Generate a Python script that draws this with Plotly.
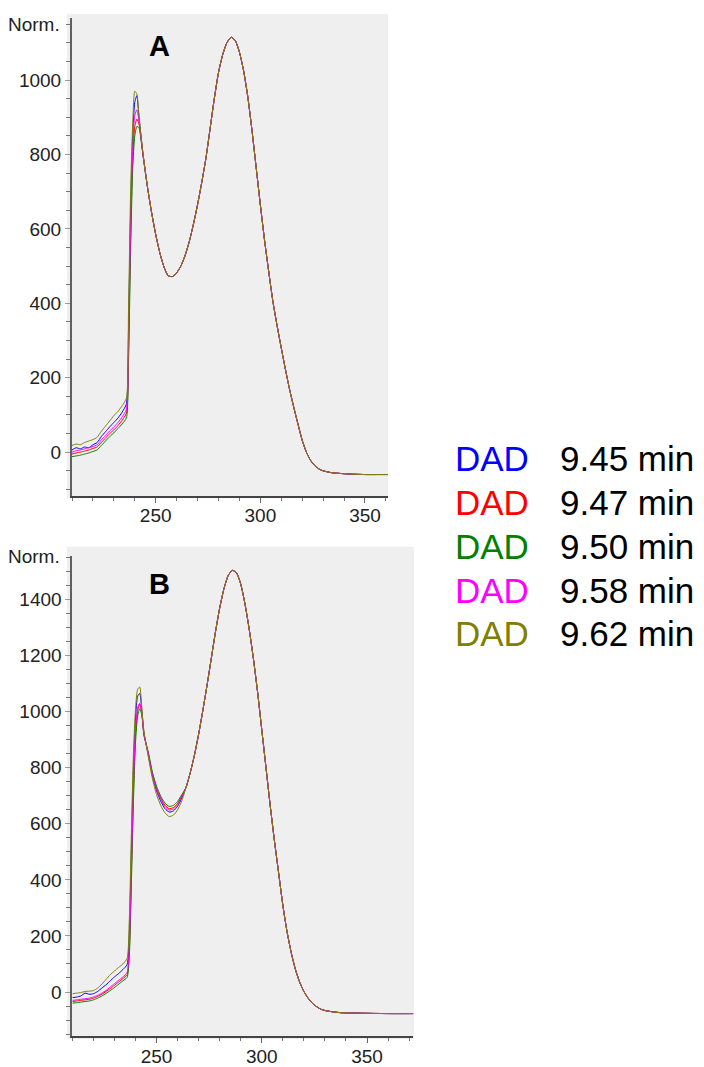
import plotly.graph_objects as go

# ---------------- data ----------------
SERIES = ["DAD 9.45 min", "DAD 9.47 min", "DAD 9.50 min", "DAD 9.58 min", "DAD 9.62 min"]
LEG_TIME = ["9.45 min", "9.47 min", "9.50 min", "9.58 min", "9.62 min"]
COLORS = ["#0000ff", "#ff0000", "#008000", "#ff00ff", "#808000"]

# Panel A: wavelengths where the five spectra differ
WL_HEAD_A = [210, 212, 214, 216, 218, 220, 222, 224, 226, 228, 230, 232, 234, 236,
             237, 238, 239, 240, 241, 242, 243, 244]
A_945 = [6, 12, 9, 14, 12, 20, 26, 42, 55, 68, 80, 92, 108, 130,
         330, 650, 850, 940, 958, 900, 848, 798]
A_947 = [-5, -2, 0, 3, 6, 10, 14, 26, 38, 50, 60, 72, 86, 105,
         270, 580, 790, 875, 895, 882, 842, 796]
A_950 = [-12, -10, -8, -5, -2, 2, 6, 18, 30, 42, 52, 64, 76, 92,
         240, 540, 760, 850, 875, 872, 838, 795]
A_958 = [0, 4, 6, 9, 12, 15, 20, 33, 45, 57, 68, 80, 95, 115,
         300, 610, 820, 905, 920, 890, 845, 797]
A_962 = [18, 22, 20, 26, 30, 34, 40, 56, 70, 84, 98, 110, 125, 145,
         380, 700, 880, 970, 962, 905, 850, 800]
# Panel A: common part of the spectra
WL_TAIL_A = [246, 248, 250, 252, 254, 256, 258, 260, 262, 264, 266, 268, 270, 272, 274,
             276, 278, 280, 282, 284, 286, 288, 290, 292, 294, 296, 298, 300, 302, 304,
             306, 308, 310, 312, 314, 316, 318, 320, 322, 324, 326, 328, 330, 334, 338,
             344, 350, 356, 361]
A_TAIL = [715, 645, 585, 535, 497, 474, 472, 482, 500, 528, 565, 612, 665, 725, 790,
          870, 950, 1020, 1068, 1100, 1115, 1106, 1075, 1025, 955, 865, 765, 665, 570, 485,
          405, 340, 280, 222, 168, 120, 75, 32, 0, -22, -36, -45, -50, -55, -57,
          -59, -60, -60, -60]

# Panel B: wavelengths where the five spectra differ
WL_HEAD_B = [210, 212, 214, 216, 218, 220, 222, 224, 226, 228, 230, 232, 234, 236,
             237, 238, 239, 240, 241, 242, 243, 244,
             246, 248, 250, 252, 254, 256, 258, 260, 262]
B_945 = [-20, -18, -14, -4, -8, -6, 2, 14, 26, 40, 54, 66, 80, 98,
         200, 500, 800, 980, 1055, 1065, 1005, 925,
         848, 772, 717, 680, 654, 642, 646, 663, 692]
B_947 = [-34, -32, -30, -28, -26, -22, -16, -8, 2, 12, 24, 36, 48, 62,
         140, 410, 710, 920, 1000, 1028, 992, 918,
         854, 780, 727, 691, 666, 654, 658, 673, 699]
B_950 = [-40, -38, -36, -34, -32, -28, -22, -14, -5, 5, 16, 28, 40, 52,
         120, 380, 680, 890, 985, 1010, 988, 915,
         858, 785, 734, 698, 674, 662, 666, 680, 704]
B_958 = [-30, -28, -26, -24, -22, -18, -12, -4, 6, 18, 30, 42, 54, 70,
         160, 440, 740, 940, 1015, 1030, 995, 920,
         851, 776, 722, 686, 661, 649, 653, 669, 696]
B_962 = [-6, -4, -2, 2, 3, 5, 14, 28, 45, 62, 75, 88, 100, 120,
         250, 560, 850, 1010, 1080, 1088, 1010, 930,
         842, 762, 704, 665, 639, 626, 631, 650, 682]
# Panel B: common part of the spectra
WL_TAIL_B = [264, 266, 268, 270, 272, 274, 276, 278, 280, 282, 284, 286, 288, 290, 292,
             294, 296, 298, 300, 302, 304, 306, 308, 310, 312, 314, 316, 318, 320, 322,
             324, 326, 328, 330, 334, 338, 344, 350, 360, 372]
B_TAIL = [730, 782, 845, 920, 1005, 1095, 1190, 1285, 1370, 1438, 1485, 1504, 1495, 1455, 1385,
          1295, 1190, 1070, 935, 800, 665, 540, 425, 310, 215, 140, 80, 35, 2, -22,
          -40, -52, -61, -66, -71, -74, -75, -76, -77, -77]

HEADS_A = [A_945, A_947, A_950, A_958, A_962]
HEADS_B = [B_945, B_947, B_950, B_958, B_962]

X_TICKS = [250, 300, 350]
Y_TICKS_A = [0, 200, 400, 600, 800, 1000]
Y_TICKS_B = [0, 200, 400, 600, 800, 1000, 1200, 1400]

# ---------------- figure ----------------
W, H = 704, 1067
def px(x):
    return x / W
def py(y):
    return 1 - y / H

fig = go.Figure()
for i in range(5):
    fig.add_trace(go.Scatter(x=WL_HEAD_A + WL_TAIL_A, y=HEADS_A[i] + A_TAIL,
                             mode="lines",
                             line=dict(color=COLORS[i], width=1, shape="spline", smoothing=0.6),
                             name=SERIES[i], xaxis="x", yaxis="y", showlegend=False))
for i in range(5):
    fig.add_trace(go.Scatter(x=WL_HEAD_B + WL_TAIL_B, y=HEADS_B[i] + B_TAIL,
                             mode="lines",
                             line=dict(color=COLORS[i], width=1, shape="spline", smoothing=0.6),
                             name=SERIES[i], xaxis="x2", yaxis="y2", showlegend=False))

tickfont = dict(family="Liberation Sans, Arial, sans-serif", size=19, color="#222222")
xcommon = dict(showgrid=False, zeroline=False, showline=True, linecolor="#444444", linewidth=1.5,
               ticks="outside", ticklen=5, tickcolor="#666666", tickwidth=1,
               tickvals=X_TICKS, tickfont=tickfont, ticklabelstandoff=-3,
               minor=dict(dtick=10, tick0=0, ticks="outside", ticklen=3, tickcolor="#777777"))
ycommon = dict(showgrid=False, zeroline=False, showline=True, linecolor="#606060", linewidth=2,
               ticks="outside", ticklen=5, tickcolor="#999999", tickwidth=1, tickfont=tickfont,
               minor=dict(dtick=50, tick0=0, ticks="outside", ticklen=4, tickcolor="#777777"))

fig.update_layout(
    width=W, height=H, margin=dict(l=0, r=0, t=0, b=0),
    paper_bgcolor="white", plot_bgcolor="#efefef",
    xaxis=dict(domain=[px(72), px(388)], range=[210, 361], anchor="y", **xcommon),
    yaxis=dict(domain=[py(499.5), py(18)], range=[-117, 1167], anchor="x",
               tickvals=Y_TICKS_A, **ycommon),
    xaxis2=dict(domain=[px(72.4), px(413.3)], range=[210, 372], anchor="y2", **xcommon),
    yaxis2=dict(domain=[py(1044.3), py(560)], range=[-158.6, 1556], anchor="x2",
                tickvals=Y_TICKS_B, **ycommon),
)

# grey frames slightly larger than the axes
fig.add_shape(type="rect", xref="paper", yref="paper", layer="below",
              x0=px(67), x1=px(388), y0=py(502), y1=py(14),
              fillcolor="#efefef", line=dict(width=0))
fig.add_shape(type="rect", xref="paper", yref="paper", layer="below",
              x0=px(67), x1=px(414), y0=py(1047), y1=py(551),
              fillcolor="#efefef", line=dict(width=0))

ann_font = dict(family="Liberation Sans, Arial, sans-serif", size=19, color="#222222")
for yy in (25, 561):
    fig.add_annotation(x=px(62), y=py(yy), xref="paper", yref="paper", text="Norm.",
                       showarrow=False, xanchor="right", yanchor="middle", font=ann_font)
for lab, yy in (("A", 46), ("B", 588)):
    fig.add_annotation(x=px(159), y=py(yy), xref="paper", yref="paper", text="<b>%s</b>" % lab,
                       showarrow=False, xanchor="center", yanchor="middle",
                       font=dict(family="Liberation Sans, Arial, sans-serif", size=29, color="#000000"))

leg_y = [462, 506.5, 550.5, 594.5, 638.5]
for i in range(5):
    fig.add_annotation(x=px(453), y=py(leg_y[i]), xref="paper", yref="paper", text="DAD",
                       showarrow=False, xanchor="left", yanchor="middle",
                       font=dict(family="Liberation Sans, Arial, sans-serif", size=35, color=COLORS[i]))
    fig.add_annotation(x=px(558), y=py(leg_y[i]), xref="paper", yref="paper", text=LEG_TIME[i],
                       showarrow=False, xanchor="left", yanchor="middle",
                       font=dict(family="Liberation Sans, Arial, sans-serif", size=35, color="#000000"))

fig.write_html("out.html")
